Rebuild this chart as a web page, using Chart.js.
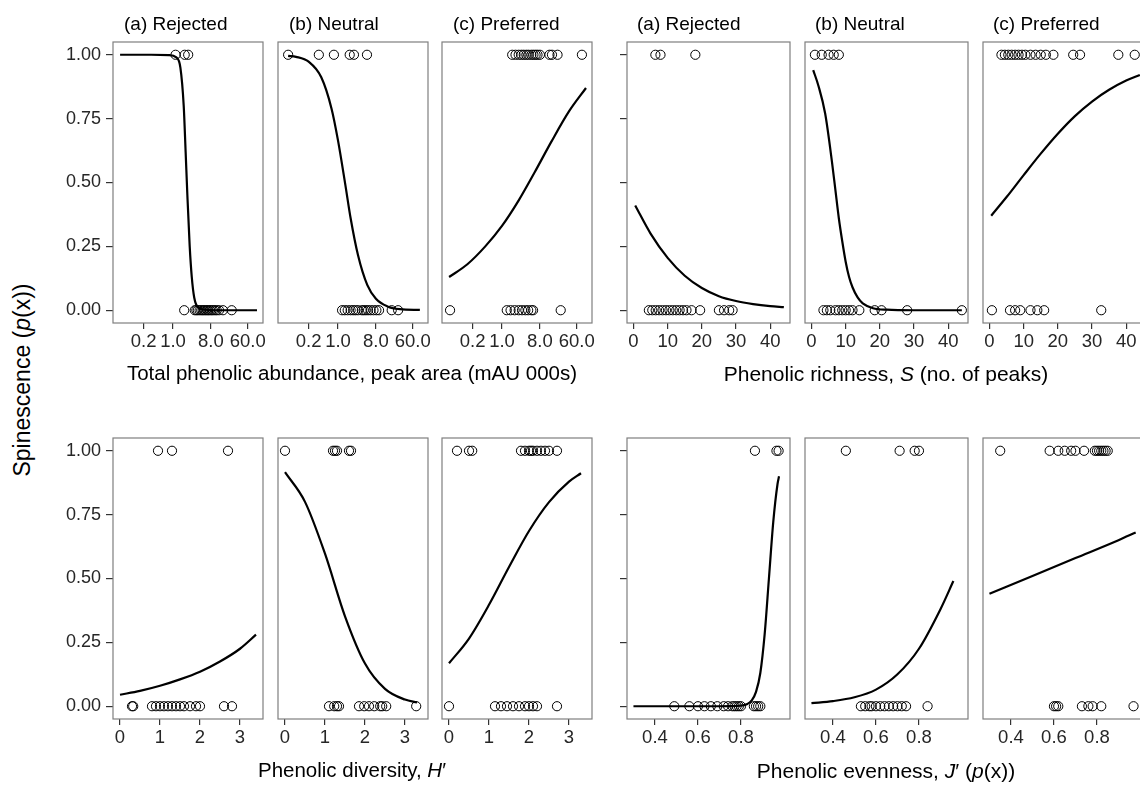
<!DOCTYPE html>
<html><head><meta charset="utf-8">
<script src="https://cdn.jsdelivr.net/npm/chart.js@4.4.1/dist/chart.umd.min.js"></script>
<style>
html,body{margin:0;padding:0;background:#fff;}
body{width:1140px;height:789px;overflow:hidden;position:relative;font-family:"Liberation Sans",Arial,sans-serif;color:#000;}
.box{position:absolute;}
.t{position:absolute;white-space:nowrap;transform:translate(-50%,-50%);line-height:1;}
</style></head><body>
<script>
// ---------- tick labels ----------
const abundanceTicks = [0.2, 1, 8, 60];
const diversityTicks = [0, 1, 2, 3];
const richnessTicks = [0, 10, 20, 30, 40];
const evennessTicks = [0.4, 0.6, 0.8];
const probTicks = [0, 0.25, 0.5, 0.75, 1];
const groupTitles = ["(a) Rejected", "(b) Neutral", "(c) Preferred"];

// ---------- Total phenolic abundance ----------
const abRejYes = [1.15, 1.9, 2.3];
const abRejNo = [1.85, 3.3, 3.6, 3.9, 4.3, 4.7, 5.1, 5.5, 6.0, 6.5, 7.0, 7.6, 8.3, 9.0, 10, 11, 12.5, 15.5, 25];
const abRejFitX = [0.055, 0.3, 0.8, 1.2, 1.5, 1.8, 2.0, 2.2, 2.5, 2.8, 3.2, 4, 6, 10, 30, 100];
const abRejFitP = [1.0, 1.0, 0.999, 0.99, 0.95, 0.8, 0.62, 0.45, 0.25, 0.13, 0.05, 0.01, 0.002, 0, 0, 0];

const abNeuYes = [0.065, 0.35, 0.8, 1.9, 2.4, 4.9];
const abNeuNo = [1.25, 1.45, 1.7, 2.0, 2.3, 2.6, 3.0, 3.7, 4.1, 4.6, 5.2, 6.0, 7.0, 8.2, 9.5, 19, 27];
const abNeuFitX = [0.065, 0.1, 0.2, 0.4, 0.7, 1, 1.5, 2, 3, 5, 8, 15, 30, 89];
const abNeuFitP = [0.996, 0.992, 0.973, 0.912, 0.79, 0.665, 0.49, 0.36, 0.215, 0.098, 0.045, 0.015, 0.004, 0.001];

const abPreYes = [1.75, 2.1, 2.5, 2.9, 3.3, 3.8, 4.3, 5.0, 5.6, 6.3, 7.0, 8.0, 13.5, 15.5, 21, 80];
const abPreNo = [0.058, 1.3, 1.6, 2.0, 2.5, 3.0, 3.6, 4.2, 5.0, 5.5, 25];
const abPreFitX = [0.055, 0.15, 0.4, 1, 2.5, 6, 15, 40, 100];
const abPreFitP = [0.13, 0.18, 0.25, 0.33, 0.43, 0.54, 0.66, 0.78, 0.87];

// ---------- Phenolic richness ----------
const riRejYes = [6.4, 7.9, 18.1];
const riRejNo = [4.5, 5.5, 6.5, 7.5, 8.5, 9.5, 10.5, 11.5, 12.5, 13.5, 14.5, 15.5, 17, 19.5, 25, 26.5, 28, 29];
const riRejFitX = [0.5, 5, 10, 15, 20, 25, 30, 35, 40, 44];
const riRejFitP = [0.41, 0.30, 0.205, 0.135, 0.087, 0.055, 0.036, 0.024, 0.016, 0.012];

const riNeuYes = [1, 3, 5, 6.5, 8];
const riNeuNo = [3.5, 4.5, 5.5, 7, 8, 9, 10, 11, 12, 14, 18.5, 20.5, 28, 44];
const riNeuFitX = [0.5, 2, 4, 6, 7, 8, 9, 10, 11, 12, 13.5, 15, 18, 22, 30, 44];
const riNeuFitP = [0.94, 0.88, 0.77, 0.58, 0.47, 0.36, 0.27, 0.19, 0.13, 0.09, 0.05, 0.027, 0.008, 0.002, 0.0, 0.0];

const riPreYes = [3.5, 4.5, 5.5, 6.5, 7.5, 8.5, 9.5, 10.5, 12, 13.5, 15, 16.5, 18.7, 24.5, 26.5, 37.7, 42.5];
const riPreNo = [0.7, 6, 7.5, 9, 12, 14, 16, 32.7];
const riPreFitX = [0.5, 5, 10, 15, 20, 25, 30, 35, 40, 44];
const riPreFitP = [0.37, 0.443, 0.529, 0.613, 0.691, 0.76, 0.817, 0.863, 0.899, 0.921];

// ---------- Phenolic diversity ----------
const diRejYes = [0.95, 1.3, 2.7];
const diRejNo = [0.3, 0.33, 0.8, 0.9, 1.0, 1.1, 1.2, 1.3, 1.4, 1.5, 1.6, 1.75, 1.9, 2.0, 2.6, 2.8];
const diRejFitX = [0, 0.5, 1, 1.5, 2, 2.5, 3, 3.4];
const diRejFitP = [0.045, 0.06, 0.08, 0.105, 0.135, 0.175, 0.225, 0.28];

const diNeuYes = [0, 1.2, 1.25, 1.3, 1.6, 1.65];
const diNeuNo = [1.1, 1.23, 1.3, 1.35, 1.85, 1.98, 2.1, 2.23, 2.38, 2.43, 2.53, 3.28];
const diNeuFitX = [0, 0.5, 1, 1.5, 2, 2.5, 3, 3.3];
const diNeuFitP = [0.916, 0.80, 0.597, 0.352, 0.167, 0.068, 0.026, 0.015];

const diPreYes = [0.2, 0.5, 0.58, 1.8, 1.9, 2.0, 2.05, 2.1, 2.2, 2.3, 2.4, 2.5, 2.7];
const diPreNo = [0, 1.15, 1.3, 1.45, 1.6, 1.75, 1.9, 2.0, 2.1, 2.2, 2.7];
const diPreFitX = [0, 0.5, 1, 1.5, 2, 2.5, 3, 3.3];
const diPreFitP = [0.168, 0.265, 0.397, 0.545, 0.686, 0.799, 0.879, 0.912];

// ---------- Phenolic evenness ----------
const evRejYes = [0.865, 0.965, 0.975];
const evRejNo = [0.49, 0.56, 0.6, 0.63, 0.66, 0.69, 0.72, 0.74, 0.76, 0.77, 0.78, 0.79, 0.8, 0.86, 0.87, 0.88, 0.89];
const evRejFitX = [0.3, 0.7, 0.8, 0.83, 0.85, 0.87, 0.89, 0.91, 0.93, 0.95, 0.97, 0.977];
const evRejFitP = [0.0, 0.0, 0.002, 0.009, 0.023, 0.056, 0.13, 0.28, 0.5, 0.72, 0.87, 0.9];

const evNeuYes = [0.46, 0.71, 0.78, 0.8];
const evNeuNo = [0.53, 0.55, 0.57, 0.58, 0.6, 0.62, 0.64, 0.66, 0.68, 0.7, 0.72, 0.74, 0.84];
const evNeuFitX = [0.3, 0.4, 0.5, 0.6, 0.7, 0.8, 0.9, 0.96];
const evNeuFitP = [0.012, 0.02, 0.035, 0.065, 0.125, 0.225, 0.38, 0.49];

const evPreYes = [0.35, 0.58, 0.62, 0.65, 0.68, 0.7, 0.74, 0.79, 0.8, 0.81, 0.82, 0.83, 0.84, 0.85];
const evPreNo = [0.6, 0.61, 0.62, 0.73, 0.76, 0.78, 0.82, 0.97];
const evPreFitX = [0.3, 0.5, 0.7, 0.9, 0.98];
const evPreFitP = [0.44, 0.51, 0.58, 0.65, 0.68];

// ---------- layout ----------
const FONT = '"Liberation Sans", Arial, sans-serif';
const TICK_COLOR = '#262626';
const leftXs = [113, 278, 442], leftW = 150;
const rightXs = [627, 805, 983], rightW = 163;
const topY = 42, botY = 438, panelH = 281;

const axes = {
  abundance: {type: 'logarithmic', min: 0.0373, max: 139, ticks: abundanceTicks, fmt: v => Number(v).toFixed(1)},
  diversity: {type: 'linear', min: -0.175, max: 3.575, ticks: diversityTicks, fmt: v => String(v)},
  richness: {type: 'linear', min: -1.9, max: 45.8, ticks: richnessTicks, fmt: v => String(v)},
  evenness: {type: 'linear', min: 0.27, max: 1.028, ticks: evennessTicks, fmt: v => Number(v).toFixed(1)}
};

const frame = {
  id: 'frame',
  afterDatasetsDraw(c) {
    const a = c.chartArea, x = c.ctx;
    x.save();
    x.strokeStyle = '#7f7f7f';
    x.lineWidth = 1.2;
    x.strokeRect(a.left, a.top, a.right - a.left, a.bottom - a.top);
    x.restore();
  }
};

function makePanel(p) {
  const padL = 70, padR = 30, padT = 24, padB = 40;
  const div = document.createElement('div');
  div.className = 'box';
  div.style.left = (p.left - padL) + 'px';
  div.style.top = (p.top - padT) + 'px';
  div.style.width = (p.w + padL + padR) + 'px';
  div.style.height = (p.h + padT + padB) + 'px';
  const cv = document.createElement('canvas');
  div.appendChild(cv);
  document.body.appendChild(div);
  const ax = axes[p.axis];
  const circle = {pointRadius: 4.6, pointHoverRadius: 4.6, borderColor: '#000', borderWidth: 1, backgroundColor: 'rgba(0,0,0,0)', pointStyle: 'circle', showLine: false};
  new Chart(cv, {
    type: 'scatter',
    data: {datasets: [
      Object.assign({data: p.yes.map(v => ({x: v, y: 1}))}, circle),
      Object.assign({data: p.no.map(v => ({x: v, y: 0}))}, circle),
      {data: p.fitX.map((v, i) => ({x: v, y: p.fitP[i]})), showLine: true, borderColor: '#000', borderWidth: 2.2, pointRadius: 0, pointHoverRadius: 0, cubicInterpolationMode: 'monotone', fill: false}
    ]},
    options: {
      responsive: true, maintainAspectRatio: false, animation: false, events: [],
      layout: {autoPadding: false, padding: {left: 0, right: padR, top: padT, bottom: 0}},
      plugins: {legend: {display: false}, tooltip: {enabled: false}},
      scales: {
        x: {
          type: ax.type, min: ax.min, max: ax.max,
          afterBuildTicks: s => { s.ticks = ax.ticks.map(v => ({value: v})); },
          afterFit: s => { s.height = padB; },
          ticks: {callback: v => ax.fmt(v), font: {family: FONT, size: 18.5}, color: TICK_COLOR, padding: 2, maxRotation: 0, autoSkip: false},
          grid: {drawOnChartArea: false, drawTicks: true, tickLength: 6, color: '#333', lineWidth: 1.2},
          border: {display: false}
        },
        y: {
          type: 'linear', min: -0.05, max: 1.05,
          afterBuildTicks: s => { s.ticks = probTicks.map(v => ({value: v})); },
          afterFit: s => { s.width = padL; },
          ticks: {display: p.yLabels, callback: v => Number(v).toFixed(2), font: {family: FONT, size: 18}, color: TICK_COLOR, padding: 5},
          grid: {display: p.yTicks, drawOnChartArea: false, drawTicks: true, tickLength: 7, color: '#333', lineWidth: 1.2},
          border: {display: false}
        }
      }
    },
    plugins: [frame]
  });
}

const panels = [
  {axis: 'abundance', left: leftXs[0], top: topY, w: leftW, h: panelH, yes: abRejYes, no: abRejNo, fitX: abRejFitX, fitP: abRejFitP, yLabels: true, yTicks: true},
  {axis: 'abundance', left: leftXs[1], top: topY, w: leftW, h: panelH, yes: abNeuYes, no: abNeuNo, fitX: abNeuFitX, fitP: abNeuFitP, yLabels: false, yTicks: false},
  {axis: 'abundance', left: leftXs[2], top: topY, w: leftW, h: panelH, yes: abPreYes, no: abPreNo, fitX: abPreFitX, fitP: abPreFitP, yLabels: false, yTicks: false},
  {axis: 'richness', left: rightXs[0], top: topY, w: rightW, h: panelH, yes: riRejYes, no: riRejNo, fitX: riRejFitX, fitP: riRejFitP, yLabels: false, yTicks: true},
  {axis: 'richness', left: rightXs[1], top: topY, w: rightW, h: panelH, yes: riNeuYes, no: riNeuNo, fitX: riNeuFitX, fitP: riNeuFitP, yLabels: false, yTicks: false},
  {axis: 'richness', left: rightXs[2], top: topY, w: rightW, h: panelH, yes: riPreYes, no: riPreNo, fitX: riPreFitX, fitP: riPreFitP, yLabels: false, yTicks: false},
  {axis: 'diversity', left: leftXs[0], top: botY, w: leftW, h: panelH, yes: diRejYes, no: diRejNo, fitX: diRejFitX, fitP: diRejFitP, yLabels: true, yTicks: true},
  {axis: 'diversity', left: leftXs[1], top: botY, w: leftW, h: panelH, yes: diNeuYes, no: diNeuNo, fitX: diNeuFitX, fitP: diNeuFitP, yLabels: false, yTicks: false},
  {axis: 'diversity', left: leftXs[2], top: botY, w: leftW, h: panelH, yes: diPreYes, no: diPreNo, fitX: diPreFitX, fitP: diPreFitP, yLabels: false, yTicks: false},
  {axis: 'evenness', left: rightXs[0], top: botY, w: rightW, h: panelH, yes: evRejYes, no: evRejNo, fitX: evRejFitX, fitP: evRejFitP, yLabels: false, yTicks: true},
  {axis: 'evenness', left: rightXs[1], top: botY, w: rightW, h: panelH, yes: evNeuYes, no: evNeuNo, fitX: evNeuFitX, fitP: evNeuFitP, yLabels: false, yTicks: false},
  {axis: 'evenness', left: rightXs[2], top: botY, w: rightW, h: panelH, yes: evPreYes, no: evPreNo, fitX: evPreFitX, fitP: evPreFitP, yLabels: false, yTicks: false}
];
panels.forEach(makePanel);

function addText(html, x, y, size, mode) {
  const d = document.createElement('div');
  d.className = 't';
  d.innerHTML = html;
  d.style.left = x + 'px';
  d.style.top = y + 'px';
  d.style.fontSize = size + 'px';
  if (mode === 'rot') d.style.transform = 'translate(-50%,-50%) rotate(-90deg)';
  if (mode === 'left') d.style.transform = 'translate(0,-50%)';
  document.body.appendChild(d);
}
leftXs.forEach((x, i) => addText(groupTitles[i], x + 11, 23, 19, 'left'));
rightXs.forEach((x, i) => addText(groupTitles[i], x + 10, 23, 19, 'left'));
addText('Total phenolic abundance, peak area (mAU 000s)', 352, 373, 20.5);
addText('Phenolic richness, <i>S</i> (no. of peaks)', 886, 373, 21);
addText('Phenolic diversity, <i>H</i>′', 352, 770, 20.5);
addText('Phenolic evenness, <i>J</i>′ (<i>p</i>(x))', 886, 770, 21);
addText('Spinescence (<i>p</i>(x))', 22, 380, 23, 'rot');
</script>
</body></html>
